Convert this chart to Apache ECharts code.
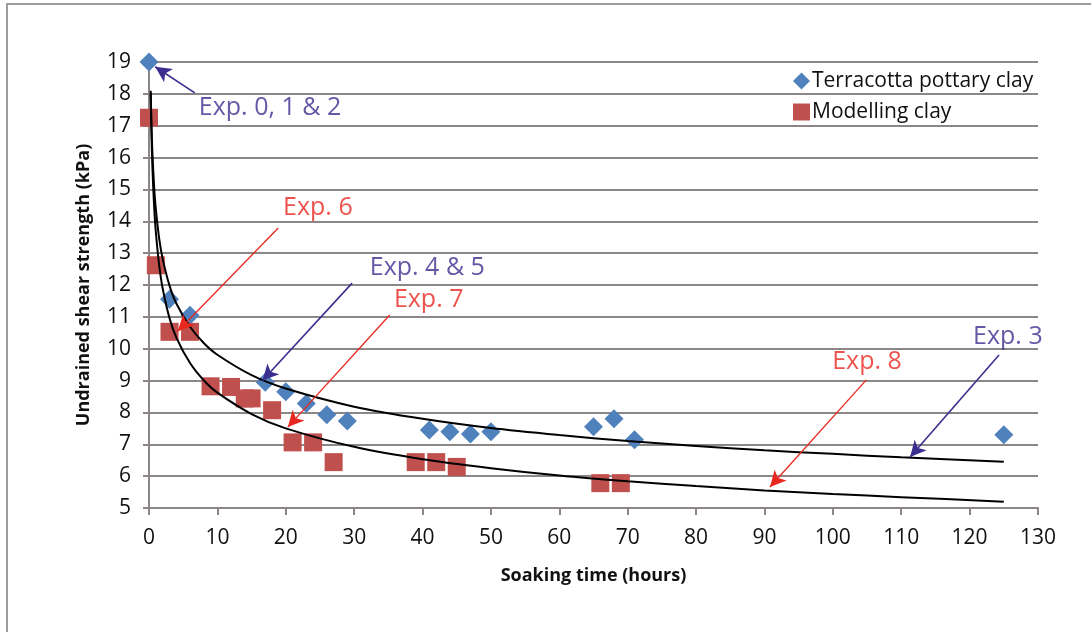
<!DOCTYPE html>
<html>
<head>
<meta charset="utf-8">
<script src="https://cdn.jsdelivr.net/npm/echarts@6/dist/echarts.min.js"></script>
<style>
html,body{margin:0;padding:0;background:#fff;}
#chart{width:1091px;height:632px;}
</style>
</head>
<body>
<div id="chart"></div>
<script>
// ---- data ----
const terracottaX = [0, 3, 6, 17, 20, 23, 26, 29, 41, 44, 47, 50, 65, 68, 71, 125];
const terracottaY = [19, 11.55, 11.05, 8.95, 8.65, 8.28, 7.93, 7.73, 7.45, 7.39, 7.32, 7.39, 7.55, 7.8, 7.14, 7.3];
const modellingX = [0, 1, 3, 6, 9, 12, 14, 15, 18, 21, 24, 27, 39, 42, 45, 66, 69];
const modellingY = [17.25, 12.62, 10.53, 10.53, 8.82, 8.8, 8.44, 8.44, 8.07, 7.06, 7.06, 6.44, 6.44, 6.44, 6.29, 5.78, 5.78];
// trend curves
const trendX = [0.25, 0.35, 0.5, 0.75, 1, 1.5, 2, 3, 4, 6, 8, 10, 15, 20, 30, 40, 50, 60, 70, 80, 90, 100, 110, 125];
const trendUpperY = [18.10, 17.12, 16.13, 15.08, 14.38, 13.44, 12.82, 11.98, 11.42, 10.69, 10.18, 9.81, 9.17, 8.75, 8.18, 7.80, 7.51, 7.29, 7.10, 6.95, 6.81, 6.70, 6.59, 6.45];
const trendLowerY = [18.03, 16.85, 15.69, 14.47, 13.66, 12.60, 11.89, 10.96, 10.35, 9.55, 9.01, 8.62, 7.95, 7.50, 6.92, 6.53, 6.25, 6.02, 5.84, 5.69, 5.55, 5.44, 5.34, 5.20];
const xTicks = {min: 0, max: 130, interval: 10};
const yTicks = {min: 5, max: 19, interval: 1};
// annotations: text, text anchor (data coords), arrow from, arrow to, colour key
const annotTexts = ['Exp. 0, 1 & 2', 'Exp. 6', 'Exp. 4 & 5', 'Exp. 7', 'Exp. 8', 'Exp. 3'];
const annotAt = [[17.7, 17.56], [24.7, 14.42], [40.7, 12.53], [40.9, 11.53], [105, 9.58], [125.6, 10.37]];
const arrowFrom = [[6.7, 18.03], [18.9, 13.79], [29.7, 12.06], [35.2, 11.06], [104.9, 9.02], [124.3, 9.80]];
const arrowTo = [[0.9, 18.85], [4.2, 10.55], [16.6, 9.0], [20.3, 7.54], [90.8, 5.66], [111.3, 6.60]];
const annotKind = ['p', 'r', 'p', 'r', 'r', 'p'];

const PURPLE = '#3b2e8e';
const RED = '#e8281f';
const FONT = '"Open Sans", "Noto Sans", sans-serif';

const zip = (xs, ys) => xs.map((x, i) => [x, ys[i]]);

const chart = echarts.init(document.getElementById('chart'), null, {renderer: 'canvas'});

const arrowLines = arrowFrom.map((f, i) => {
  const c = annotKind[i] === 'p' ? PURPLE : RED;
  return [
    {coord: f, lineStyle: {color: c, width: annotKind[i] === 'p' ? 1.6 : 1.3, type: 'solid'}},
    {coord: arrowTo[i]}
  ];
});

const option = {
  backgroundColor: '#ffffff',
  animation: false,
  textStyle: {fontFamily: FONT},
  graphic: [{
    type: 'rect',
    shape: {x: 7, y: 4, width: 1200, height: 700},
    style: {fill: 'none', stroke: '#a09c9a', lineWidth: 2},
    silent: true, z: -1
  }],
  grid: {left: 149, right: 53, top: 62, bottom: 124},
  legend: {
    data: [
      {name: 'Terracotta pottary clay', icon: 'diamond'},
      {name: 'Modelling clay', icon: 'rect'}
    ],
    orient: 'vertical',
    left: 788, top: 64,
    itemWidth: 17, itemHeight: 17, itemGap: 7,
    textStyle: {fontSize: 21, color: '#111', fontFamily: FONT, lineHeight: 24, padding: [0, 0, 0, -3]}
  },
  xAxis: {
    type: 'value',
    min: xTicks.min, max: xTicks.max, interval: xTicks.interval,
    name: 'Soaking time (hours)',
    nameLocation: 'middle', nameGap: 59,
    nameTextStyle: {fontSize: 18, fontWeight: 'bold', color: '#111', fontFamily: FONT},
    axisLine: {show: true, lineStyle: {color: '#8c8686', width: 2}},
    axisTick: {show: true, length: 7, lineStyle: {color: '#8c8686', width: 2}},
    axisLabel: {fontSize: 21, color: '#111', margin: 20, fontFamily: FONT},
    splitLine: {show: false}
  },
  yAxis: {
    type: 'value',
    min: yTicks.min, max: yTicks.max, interval: yTicks.interval,
    name: 'Undrained shear strength (kPa)',
    nameLocation: 'middle', nameGap: 56,
    nameTextStyle: {fontSize: 18, fontWeight: 'bold', color: '#111', fontFamily: FONT},
    axisLine: {show: true, lineStyle: {color: '#8c8686', width: 2}},
    axisTick: {show: true, length: 6, lineStyle: {color: '#8c8686', width: 2}},
    axisLabel: {fontSize: 21, color: '#111', margin: 18, fontFamily: FONT},
    splitLine: {show: true, lineStyle: {color: '#8c8686', width: 2}}
  },
  series: [
    {
      name: 'Terracotta pottary clay',
      type: 'scatter',
      symbol: 'diamond', symbolSize: 19,
      itemStyle: {color: '#4f81bd', opacity: 1},
      data: zip(terracottaX, terracottaY),
      z: 3
    },
    {
      name: 'Modelling clay',
      type: 'scatter',
      symbol: 'rect', symbolSize: 18,
      itemStyle: {color: '#c0504d', opacity: 1},
      data: zip(modellingX, modellingY),
      z: 3
    },
    {
      name: 'trendUpper', type: 'line', showSymbol: false, smooth: 0.3,
      lineStyle: {color: '#000', width: 2}, itemStyle: {color: '#000'},
      data: zip(trendX, trendUpperY), z: 4, silent: true
    },
    {
      name: 'trendLower', type: 'line', showSymbol: false, smooth: 0.3,
      lineStyle: {color: '#000', width: 2}, itemStyle: {color: '#000'},
      data: zip(trendX, trendLowerY), z: 4, silent: true
    },
    {
      name: 'annotations', type: 'scatter', symbolSize: 0, silent: true, z: 6,
      data: annotAt.map((p, i) => ({
        value: p,
        label: {
          show: true, position: 'inside', formatter: annotTexts[i],
          color: annotKind[i] === 'p' ? PURPLE : RED,
          fontSize: 25, fontFamily: FONT
        }
      })),
      markLine: {
        silent: true, symbol: ['none', 'arrow'], symbolSize: [12, 16],
        label: {show: false},
        data: arrowLines
      }
    }
  ]
};
chart.setOption(option);
</script>
</body>
</html>
